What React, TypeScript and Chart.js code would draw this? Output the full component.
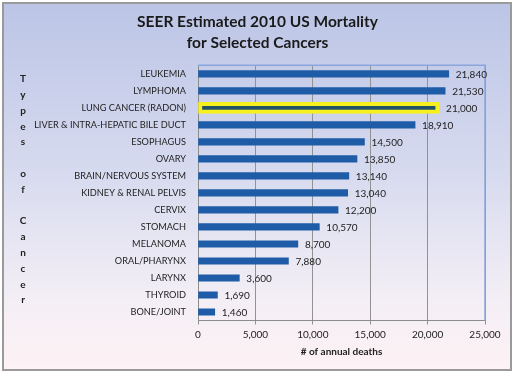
import React, { useEffect, useRef } from "react";
import { Chart, registerables } from "chart.js";

Chart.register(...registerables);

const categories = [
  "LEUKEMIA",
  "LYMPHOMA",
  "LUNG CANCER (RADON)",
  "LIVER & INTRA-HEPATIC BILE DUCT",
  "ESOPHAGUS",
  "OVARY",
  "BRAIN/NERVOUS SYSTEM",
  "KIDNEY & RENAL PELVIS",
  "CERVIX",
  "STOMACH",
  "MELANOMA",
  "ORAL/PHARYNX",
  "LARYNX",
  "THYROID",
  "BONE/JOINT",
];

const deaths = [21840, 21530, 21000, 18910, 14500, 13850, 13140, 13040, 12200, 10570, 8700, 7880, 3600, 1690, 1460];

const highlightIndex = 2;

const titleLines = ["SEER Estimated 2010 US Mortality", "for Selected Cancers"];
const yTitleLetters = ["T", "y", "p", "e", "s", "", "o", "f", "", "C", "a", "n", "c", "e", "r"];
const xTitle = "# of annual deaths";

const FONT = "Lato, 'Open Sans', sans-serif";

const mainValues = deaths.map((v, i) => (i === highlightIndex ? null : v));
const highlightValues = deaths.map((v, i) => (i === highlightIndex ? v : null));

const fmt = (v: number) => v.toLocaleString("en-US");

const labelsPlugin = {
  id: "valueLabels",
  afterDatasetsDraw(chart: any) {
    const ctx = chart.ctx;
    ctx.save();
    ctx.font = `10px ${FONT}`;
    ctx.fillStyle = "#222";
    ctx.textBaseline = "middle";
    ctx.textAlign = "left";
    chart.data.datasets.forEach((ds: any, di: number) => {
      const meta = chart.getDatasetMeta(di);
      meta.data.forEach((el: any, i: number) => {
        const v = ds.data[i];
        if (v == null) return;
        ctx.fillText(fmt(v), el.x + 7, el.y + 1);
      });
    });
    ctx.restore();
  },
};

const decorPlugin = {
  id: "decor",
  beforeDatasetsDraw(chart: any) {
    const { ctx, chartArea } = chart;
    ctx.save();
    ctx.strokeStyle = "#8aa6dc";
    ctx.lineWidth = 1.5;
    ctx.beginPath();
    ctx.moveTo(chartArea.left, chartArea.top);
    ctx.lineTo(chartArea.right, chartArea.top);
    ctx.lineTo(chartArea.right, chartArea.bottom);
    ctx.stroke();
    ctx.restore();
  },
  afterDraw(chart: any) {
    const ctx = chart.ctx;
    ctx.save();
    ctx.font = `bold 10px ${FONT}`;
    ctx.fillStyle = "#222";
    ctx.textAlign = "center";
    ctx.textBaseline = "middle";
    const step = 15.8;
    const y0 = 79;
    yTitleLetters.forEach((ch, i) => {
      if (ch) ctx.fillText(ch, 23, y0 + i * step);
    });
    ctx.restore();
  },
};

export default function App() {
  const ref = useRef<HTMLCanvasElement>(null);

  useEffect(() => {
    if (!ref.current) return;
    const chart = new Chart(ref.current, {
      type: "bar",
      data: {
        labels: categories,
        datasets: [
          {
            data: mainValues,
            backgroundColor: "#1f5ca8",
            barThickness: 6.5,
            grouped: false,
          } as any,
          {
            data: highlightValues,
            backgroundColor: "#22526a",
            borderColor: "#f6f01e",
            borderWidth: 4,
            borderSkipped: false,
            barThickness: 11,
            grouped: false,
          } as any,
        ],
      },
      options: {
        indexAxis: "y",
        animation: false,
        responsive: false,
        maintainAspectRatio: false,
        layout: { padding: { left: 30, right: 30, top: 0, bottom: 0 } },
        plugins: {
          legend: { display: false },
          tooltip: { enabled: false },
          title: {
            display: true,
            text: titleLines,
            color: "#1a1a1a",
            font: { family: FONT, size: 15.5, weight: "bold", lineHeight: 1.35 },
            padding: { top: 11.5, bottom: 12 },
          },
        },
        scales: {
          x: {
            min: 0,
            max: 25000,
            ticks: {
              stepSize: 5000,
              color: "#222",
              font: { family: FONT, size: 10 },
              padding: 4,
              callback: (v: any) => fmt(Number(v)),
            },
            grid: { color: "#929292", lineWidth: 1, drawTicks: true, tickLength: 4 },
            border: { display: true, color: "#8c8c8c" },
            title: {
              display: true,
              text: xTitle,
              color: "#222",
              font: { family: FONT, size: 10, weight: "bold", lineHeight: 1.2 },
              padding: { top: 0, bottom: 15 },
            },
            afterFit: (scale: any) => {
              scale.height = 52.5;
            },
          },
          y: {
            ticks: {
              color: "#222",
              font: { family: FONT, size: 9.2 },
              padding: 12,
            },
            grid: { display: false, drawTicks: false },
            border: { display: true, color: "#8c8c8c" },
            afterFit: (scale: any) => {
              scale.width = 168;
            },
          },
        },
      },
      plugins: [labelsPlugin, decorPlugin],
    });
    return () => chart.destroy();
  }, []);

  return (
    <div
      style={{
        position: "fixed",
        left: 0,
        top: 0,
        width: 515,
        height: 373,
        background: "#ffffff",
      }}
    >
      <div
        style={{
          position: "absolute",
          left: 2,
          top: 2,
          width: 510,
          height: 369,
          boxSizing: "border-box",
          border: "2px solid #9a9a9a",
          background: "linear-gradient(to bottom, #bcc5e6 0%, #d6daef 45%, #f3eef5 80%, #fdf2f5 100%)",
        }}
      />
      <canvas
        ref={ref}
        width={515}
        height={373}
        style={{ position: "absolute", left: 0, top: 0, width: 515, height: 373 }}
      />
    </div>
  );
}
